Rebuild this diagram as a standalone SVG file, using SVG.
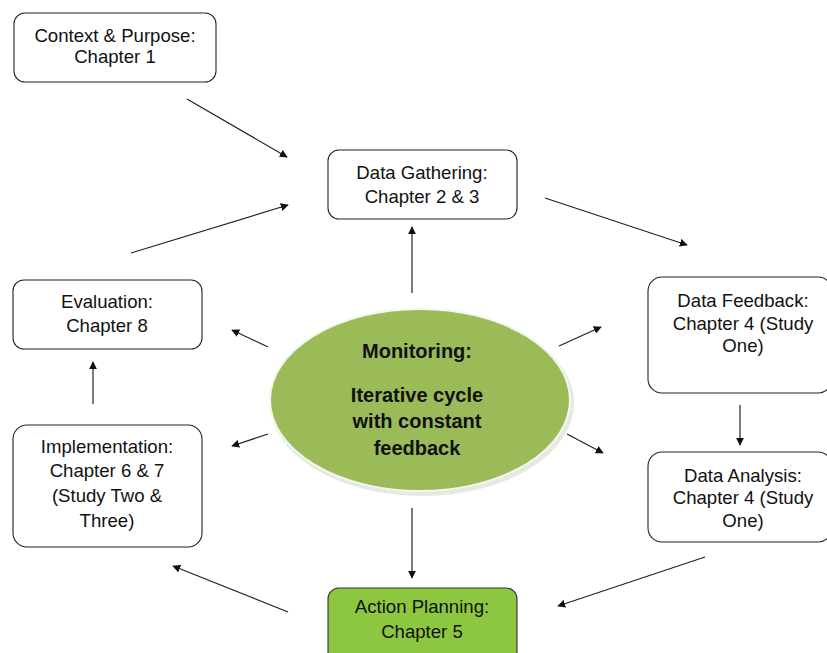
<svg xmlns="http://www.w3.org/2000/svg" width="827" height="653" viewBox="0 0 827 653">
  <style>
    .box { fill: #ffffff; stroke: #222222; stroke-width: 1.1; }
    .green { fill: #8DC63F; stroke: #333333; stroke-width: 1.1; }
    .lbl { font-family: "Liberation Sans", Arial, sans-serif; font-size: 18.6px; fill: #111111; text-anchor: middle; }
    .hub { font-family: "Liberation Sans", Arial, sans-serif; font-size: 20px; font-weight: bold; fill: #111111; text-anchor: middle; }
    .conn line { stroke: #222222; stroke-width: 1.2; marker-end: url(#arrow); }
  </style>
  <defs>
    <marker id="arrow" viewBox="0 0 10 10" refX="9" refY="5" markerWidth="8" markerHeight="8" markerUnits="userSpaceOnUse" orient="auto">
      <path d="M0,0 L10,5 L0,10 Z" fill="#111111"/>
    </marker>
  </defs>
  <rect width="827" height="653" fill="#ffffff"/>

  <g id="context">
    <rect class="box" x="14" y="13" width="202" height="69" rx="11"/>
    <text class="lbl" x="115" y="42">Context &amp; Purpose:</text>
    <text class="lbl" x="115" y="63">Chapter 1</text>
  </g>

  <g id="data-gathering">
    <rect class="box" x="328" y="150" width="189" height="69" rx="11"/>
    <text class="lbl" x="422" y="179">Data Gathering:</text>
    <text class="lbl" x="422" y="203">Chapter 2 &amp; 3</text>
  </g>

  <g id="data-feedback">
    <rect class="box" x="648" y="277" width="184" height="116" rx="14"/>
    <text class="lbl" x="743" y="307">Data Feedback:</text>
    <text class="lbl" x="743" y="330">Chapter 4 (Study</text>
    <text class="lbl" x="743" y="352">One)</text>
  </g>

  <g id="data-analysis">
    <rect class="box" x="648" y="452" width="184" height="90" rx="14"/>
    <text class="lbl" x="743" y="482">Data Analysis:</text>
    <text class="lbl" x="743" y="504">Chapter 4 (Study</text>
    <text class="lbl" x="743" y="527">One)</text>
  </g>

  <g id="action-planning">
    <rect class="green" x="328" y="588" width="189" height="75" rx="11"/>
    <text class="lbl" x="422" y="613">Action Planning:</text>
    <text class="lbl" x="422" y="638">Chapter 5</text>
  </g>

  <g id="implementation">
    <rect class="box" x="13" y="425" width="189" height="122" rx="14"/>
    <text class="lbl" x="107" y="453">Implementation:</text>
    <text class="lbl" x="107" y="477">Chapter 6 &amp; 7</text>
    <text class="lbl" x="107" y="502">(Study Two &amp;</text>
    <text class="lbl" x="107" y="527">Three)</text>
  </g>

  <g id="evaluation">
    <rect class="box" x="13" y="280" width="189" height="69" rx="11"/>
    <text class="lbl" x="107" y="308">Evaluation:</text>
    <text class="lbl" x="107" y="332">Chapter 8</text>
  </g>

  <g id="monitoring">
    <ellipse cx="422" cy="403" rx="152" ry="93" fill="#e6e9e0"/>
    <ellipse cx="420" cy="400" rx="150" ry="91" fill="#9BBB59" stroke="#f4f6ef" stroke-width="2"/>
    <text class="hub" x="417" y="358">Monitoring:</text>
    <text class="hub" x="417" y="402">Iterative cycle</text>
    <text class="hub" x="417" y="428">with constant</text>
    <text class="hub" x="417" y="455">feedback</text>
  </g>

  <g id="connectors" class="conn">
    <line x1="187" y1="99" x2="287" y2="157"/>
    <line x1="545" y1="198" x2="687" y2="245"/>
    <line x1="740" y1="405" x2="740" y2="445"/>
    <line x1="705" y1="557" x2="558" y2="606"/>
    <line x1="288" y1="612" x2="173" y2="566"/>
    <line x1="93" y1="404" x2="93" y2="362"/>
    <line x1="131" y1="253" x2="288" y2="205"/>
    <line x1="412" y1="293" x2="412" y2="227"/>
    <line x1="268" y1="347" x2="232" y2="330"/>
    <line x1="268" y1="434" x2="232" y2="446"/>
    <line x1="559" y1="346" x2="601" y2="327"/>
    <line x1="567" y1="434" x2="603" y2="453"/>
    <line x1="412" y1="508" x2="412" y2="578"/>
  </g>
</svg>
